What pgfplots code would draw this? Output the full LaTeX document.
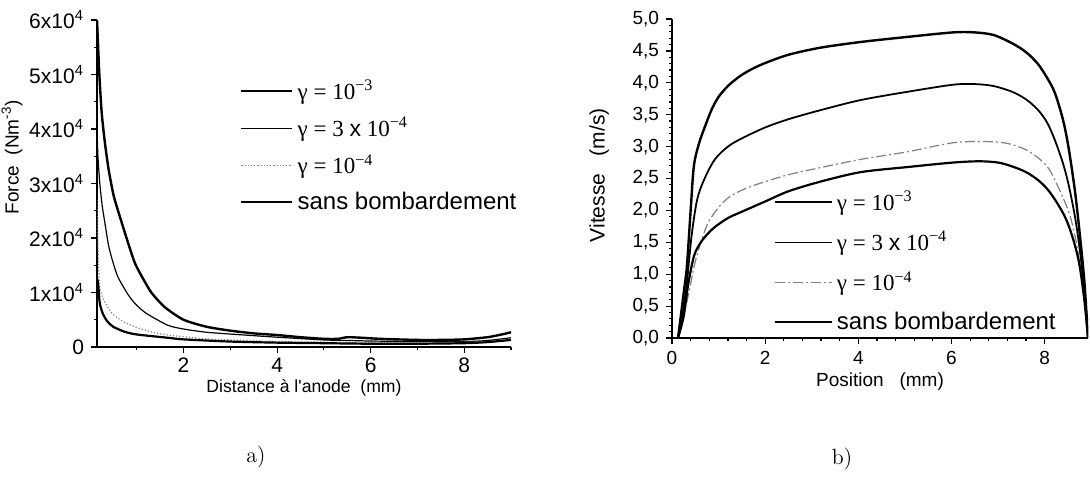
\documentclass[border=0pt]{standalone}
\usepackage{fontspec}
\usepackage{pgfplots}
\pgfplotsset{compat=1.18}
\newfontfamily\lsans{Liberation Sans}
\newfontfamily\lserif{Liberation Serif}

\pgfplotstableread{
x y
0.15 60000
0.17 56000
0.20 50000
0.25 43000
0.32 37400
0.40 32500
0.50 28000
0.60 25000
0.80 19500
0.96 15400
1.15 12300
1.32 9900
1.60 7300
2.00 5000
2.50 3700
3.00 3000
3.50 2500
4.00 2200
4.50 1800
5.00 1500
5.30 1500
5.50 1800
5.80 1700
6.20 1500
7.00 1300
7.50 1300
8.00 1400
8.50 1800
8.80 2300
9.00 2700
}\fa
\pgfplotstableread{
x y
0.15 40000
0.17 35000
0.21 30000
0.26 26000
0.32 22700
0.40 18500
0.50 15300
0.60 12800
0.80 9800
0.96 8000
1.20 6200
1.66 4000
2.00 3300
2.50 2700
3.30 2200
4.00 1800
5.00 1300
5.50 1200
6.00 1100
7.00 1000
8.00 1000
8.50 1200
9.00 1700
}\fb
\pgfplotstableread{
x y
0.15 27000
0.18 16000
0.21 11000
0.30 8500
0.47 6200
0.70 4700
0.96 3700
1.30 2800
1.66 2200
2.00 1900
2.50 1500
3.00 1300
4.00 1000
5.00 900
6.00 800
7.00 800
8.00 900
8.50 1000
9.00 1400
}\fc
\pgfplotstableread{
x y
0.16 12500
0.18 11000
0.21 8000
0.28 6000
0.38 4600
0.50 3700
0.74 2800
1.00 2300
1.66 1700
2.00 1400
3.00 1000
4.00 800
5.00 700
6.00 600
7.00 600
8.00 700
8.50 900
9.00 1300
}\fd

\pgfplotstableread{
x y
0.13 0
0.25 0.70
0.32 1.13
0.40 2.00
0.47 2.70
0.58 3.05
0.70 3.30
0.85 3.58
1.00 3.78
1.20 3.95
1.45 4.10
1.70 4.21
2.00 4.31
2.50 4.44
3.18 4.55
4.05 4.64
5.06 4.72
6.03 4.79
6.50 4.79
6.90 4.75
7.30 4.62
7.60 4.48
7.85 4.30
8.05 4.08
8.22 3.84
8.40 3.40
8.52 2.95
8.65 2.30
8.75 1.65
8.85 0.90
8.93 0
}\va
\pgfplotstableread{
x y
0.13 0
0.25 0.50
0.32 0.87
0.42 1.60
0.54 2.17
0.70 2.50
0.92 2.80
1.20 3.00
1.50 3.13
2.00 3.30
2.50 3.43
3.18 3.57
4.05 3.73
5.06 3.86
6.03 3.97
6.50 3.98
6.90 3.95
7.30 3.86
7.60 3.74
7.85 3.58
8.05 3.38
8.22 3.10
8.40 2.72
8.52 2.38
8.65 1.90
8.75 1.40
8.85 0.75
8.93 0
}\vb
\pgfplotstableread{
x y
0.13 0
0.25 0.35
0.38 0.77
0.50 1.20
0.74 1.75
1.00 2.05
1.25 2.22
1.60 2.35
2.00 2.45
2.50 2.56
3.18 2.67
4.05 2.80
5.06 2.92
6.03 3.06
6.70 3.08
7.20 3.05
7.60 2.95
7.90 2.80
8.10 2.64
8.30 2.35
8.52 1.97
8.65 1.60
8.75 1.18
8.85 0.60
8.93 0
}\vc
\pgfplotstableread{
x y
0.13 0
0.25 0.34
0.35 0.85
0.47 1.28
0.60 1.48
0.75 1.62
0.92 1.74
1.20 1.88
1.50 1.98
2.00 2.14
2.50 2.30
3.18 2.45
4.05 2.60
5.06 2.68
6.03 2.75
6.60 2.77
7.00 2.75
7.30 2.69
7.60 2.60
7.85 2.48
8.05 2.34
8.22 2.17
8.40 1.95
8.52 1.75
8.65 1.45
8.75 1.13
8.85 0.60
8.93 0
}\vd

\pgfplotsset{
  common/.style={
    scale only axis,
    axis x line=bottom, axis y line=left,
    axis line style={-, line width=0.7pt},
    tick align=outside,
    major tick length=3pt, minor tick length=1.5pt,
    every tick/.style={black, line width=0.6pt},
    legend cell align=left,
    legend style={draw=none, fill=none, inner sep=0pt, anchor=north west},
  },
}

\begin{document}
\begin{tikzpicture}
\useasboundingbox (0,0) rectangle (545pt,239pt);

% ---------- a) ----------
\begin{axis}[common,
  at={(48.5pt,65.5pt)}, anchor=south west,
  width=207pt, height=163.5pt,
  xmin=0.15, xmax=9, ymin=0, ymax=60000,
  xtick={2,4,6,8}, xticklabels={2,4,6,8},
  minor xtick={1,3,5,7,9},
  ytick={0,10000,20000,30000,40000,50000,60000},
  yticklabels={0,1x10\textsuperscript{4},2x10\textsuperscript{4},3x10\textsuperscript{4},4x10\textsuperscript{4},5x10\textsuperscript{4},6x10\textsuperscript{4}},
  minor ytick={5000,15000,25000,35000,45000,55000},
  scaled y ticks=false,
  tick label style={font=\lsans\fontsize{10.5}{12}\selectfont},
  xticklabel style={yshift=1pt},
  xlabel={Distance à l'anode\ \ (mm)},
  xlabel style={font=\lsans\fontsize{8.8}{10}\selectfont, at={(axis description cs:0.5,-0.125)}, anchor=center},
  ylabel={Force\ \ (Nm\textsuperscript{-3})},
  ylabel style={font=\lsans\fontsize{9.5}{11}\selectfont, at={(axis description cs:-0.205,0.58)}, anchor=center},
  legend style={at={(axis description cs:0.345,0.83)}, row sep=3.5pt},
  legend image code/.code={\draw[#1] (0pt,0pt) -- (25.5pt,0pt);},
]
\addplot[black, line width=1.2pt, smooth, tension=0.4] table {\fa};
\addlegendentry{\lserif\fontsize{11.5}{13}\selectfont γ = 10\textsuperscript{−3}}
\addplot[black, line width=0.6pt, smooth, tension=0.4] table {\fb};
\addlegendentry{\lserif\fontsize{11.5}{13}\selectfont γ = 3 {\lsans x} 10\textsuperscript{−4}}
\addplot[gray, densely dotted, line width=0.6pt, smooth, tension=0.4] table {\fc};
\addlegendentry{\lserif\fontsize{11.5}{13}\selectfont γ = 10\textsuperscript{−4}}
\addplot[black, line width=1.1pt, smooth, tension=0.4] table {\fd};
\addlegendentry{\lsans\fontsize{12}{14}\selectfont sans bombardement}
\end{axis}

% ---------- b) ----------
\begin{axis}[common,
  at={(336pt,70pt)}, anchor=south west,
  width=208pt, height=159.5pt,
  xmin=0, xmax=8.93, ymin=0, ymax=5,
  xtick={0,2,4,6,8}, xticklabels={0,2,4,6,8},
  minor x tick num=4,
  ytick={0,0.5,1,1.5,2,2.5,3,3.5,4,4.5,5},
  yticklabels={{0,0},{0,5},{1,0},{1,5},{2,0},{2,5},{3,0},{3,5},{4,0},{4,5},{5,0}},
  minor y tick num=4,
  tick label style={font=\lsans\fontsize{9.5}{11}\selectfont},
  xlabel={Position\ \ \ (mm)},
  xlabel style={font=\lsans\fontsize{9.5}{11}\selectfont, at={(axis description cs:0.5,-0.138)}, anchor=center},
  ylabel={Vitesse\ \ \ (m/s)},
  ylabel style={font=\lsans\fontsize{10.5}{12}\selectfont, at={(axis description cs:-0.175,0.51)}, anchor=center},
  legend style={at={(axis description cs:0.243,0.475)}, row sep=5pt},
  legend image code/.code={\draw[#1] (0pt,0pt) -- (28.5pt,0pt);},
]
\addplot[black, line width=1.2pt, smooth, tension=0.5] table {\va};
\addlegendentry{\lserif\fontsize{11.5}{13}\selectfont γ = 10\textsuperscript{−3}}
\addplot[black, line width=0.9pt, smooth, tension=0.5] table {\vb};
\addlegendentry{\lserif\fontsize{11.5}{13}\selectfont γ = 3 {\lsans x} 10\textsuperscript{−4}}
\addplot[gray, dash pattern=on 5pt off 1.5pt on 1pt off 1.5pt, line width=0.6pt, smooth, tension=0.5] table {\vc};
\addlegendentry{\lserif\fontsize{11.5}{13}\selectfont γ = 10\textsuperscript{−4}}
\addplot[black, line width=1.1pt, smooth, tension=0.5] table {\vd};
\addlegendentry{\lsans\fontsize{12}{14}\selectfont sans bombardement}
\end{axis}

\node[font=\fontsize{11}{13}\selectfont] at (128pt,10.5pt) {a)};
\node[font=\fontsize{11}{13}\selectfont] at (421pt,9.5pt) {b)};
\end{tikzpicture}
\end{document}
